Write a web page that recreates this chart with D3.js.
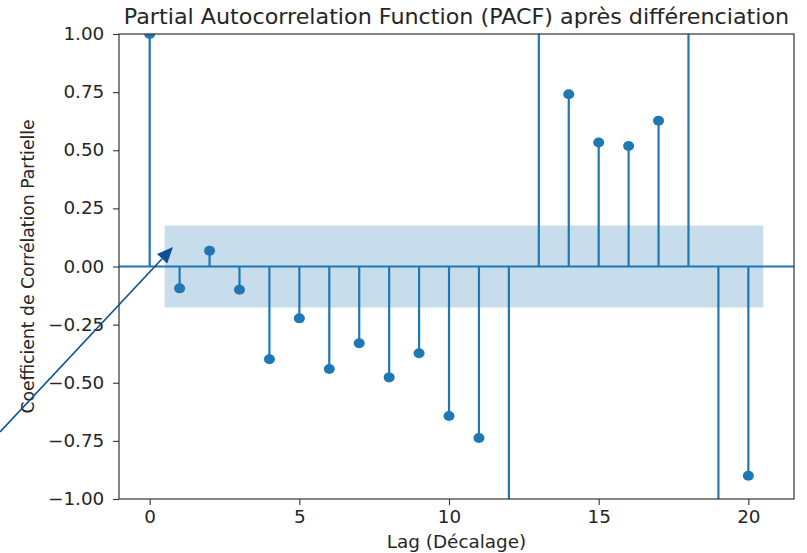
<!DOCTYPE html>
<html><head><meta charset="utf-8">
<script src="https://cdn.jsdelivr.net/npm/d3@7"></script>
<style>body{margin:0;background:#fff}svg{display:block}text{font-family:"DejaVu Sans",sans-serif;fill:#262626}</style>
</head><body><svg id="c" width="807" height="553"></svg>
<script>
const lags = [0,1,2,3,4,5,6,7,8,9,10,11,12,13,14,15,16,17,18,19,20];
const pacf = [1.0,-0.094,0.068,-0.10,-0.399,-0.223,-0.441,-0.330,-0.477,-0.373,-0.643,-0.738,-1.6,1.6,0.741,0.533,0.518,0.627,1.6,-1.6,-0.90];
const confBand = 0.176;
const yTicks = [-1.00,-0.75,-0.50,-0.25,0.00,0.25,0.50,0.75,1.00];
const xTicks = [0,5,10,15,20];
const title = "Partial Autocorrelation Function (PACF) après différenciation";
const xLabel = "Lag (Décalage)";
const yLabel = "Coefficient de Corrélation Partielle";

const svg = d3.select("#c");
const L=119, R=794, T=34, B=499;
const x = d3.scaleLinear().domain([-1.025,21.525]).range([L,R]);
const y = d3.scaleLinear().domain([-1,1]).range([B,T]);
const blue = "#1f77b4";
const SX = 1.05;

svg.append("defs").append("clipPath").attr("id","clip")
  .append("rect").attr("x",L).attr("y",T).attr("width",R-L).attr("height",B-T);
const g = svg.append("g").attr("clip-path","url(#clip)");

// confidence band
g.append("rect").attr("x",x(0.5)).attr("width",x(20.5)-x(0.5))
  .attr("y",y(confBand)).attr("height",y(-confBand)-y(confBand))
  .attr("fill",blue).attr("fill-opacity",0.25);
// zero line
g.append("line").attr("x1",L).attr("x2",R).attr("y1",y(0)).attr("y2",y(0))
  .attr("stroke",blue).attr("stroke-width",2);
// stems
g.selectAll(".stem").data(lags).join("line")
  .attr("x1",d=>x(d)).attr("x2",d=>x(d)).attr("y1",y(0)).attr("y2",(d,i)=>y(pacf[i]))
  .attr("stroke",blue).attr("stroke-width",2.2);
g.selectAll(".mk").data(lags).join("ellipse")
  .attr("cx",d=>x(d)).attr("cy",(d,i)=>y(pacf[i])).attr("rx",5.5).attr("ry",5)
  .attr("fill",blue);

// axes
const ya = svg.append("g").attr("transform",`translate(${L},0)`)
  .call(d3.axisLeft(y).tickValues(yTicks).tickFormat(d3.format(".2f")).tickSize(6).tickPadding(8));
const xa = svg.append("g").attr("transform",`translate(0,${B})`)
  .call(d3.axisBottom(x).tickValues(xTicks).tickSize(6).tickPadding(6));
[ya,xa].forEach(a=>{
  a.select(".domain").remove();
  a.selectAll("line").attr("stroke","#333").attr("stroke-width",1.1);
  a.selectAll("text").style("font-size","17.5px").attr("fill","#262626").attr("transform",`scale(${SX},1)`);
});
ya.selectAll("text").text(function(){return this.textContent.replace("-","\u2212");});
svg.append("rect").attr("x",L).attr("y",T).attr("width",R-L).attr("height",B-T)
  .attr("fill","none").attr("stroke","#333").attr("stroke-width",1.2);

svg.append("text").attr("transform",`translate(${(L+R)/2},24) scale(${SX},1)`).attr("text-anchor","middle")
  .style("font-size","21.2px").text(title);
svg.append("text").attr("transform",`translate(${(L+R)/2},548) scale(${SX},1)`).attr("text-anchor","middle")
  .style("font-size","17.5px").text(xLabel);
svg.append("text").attr("transform",`translate(34,${(T+B)/2}) rotate(-90)`).attr("text-anchor","middle")
  .style("font-size","17.2px").text(yLabel);

// annotation arrow
const ax0=0, ay0=432, ax1=173, ay1=247;
const ang = Math.atan2(ay1-ay0, ax1-ax0);
const hl=16, hw=7;
const bx = ax1 - hl*Math.cos(ang), by = ay1 - hl*Math.sin(ang);
svg.append("line").attr("x1",ax0).attr("y1",ay0).attr("x2",bx).attr("y2",by)
  .attr("stroke","#0b4f96").attr("stroke-width",1.6);
svg.append("path").attr("d",`M${ax1},${ay1}L${bx+hw*Math.sin(ang)},${by-hw*Math.cos(ang)}L${bx-hw*Math.sin(ang)},${by+hw*Math.cos(ang)}Z`)
  .attr("fill","#0b4f96");
</script></body></html>
